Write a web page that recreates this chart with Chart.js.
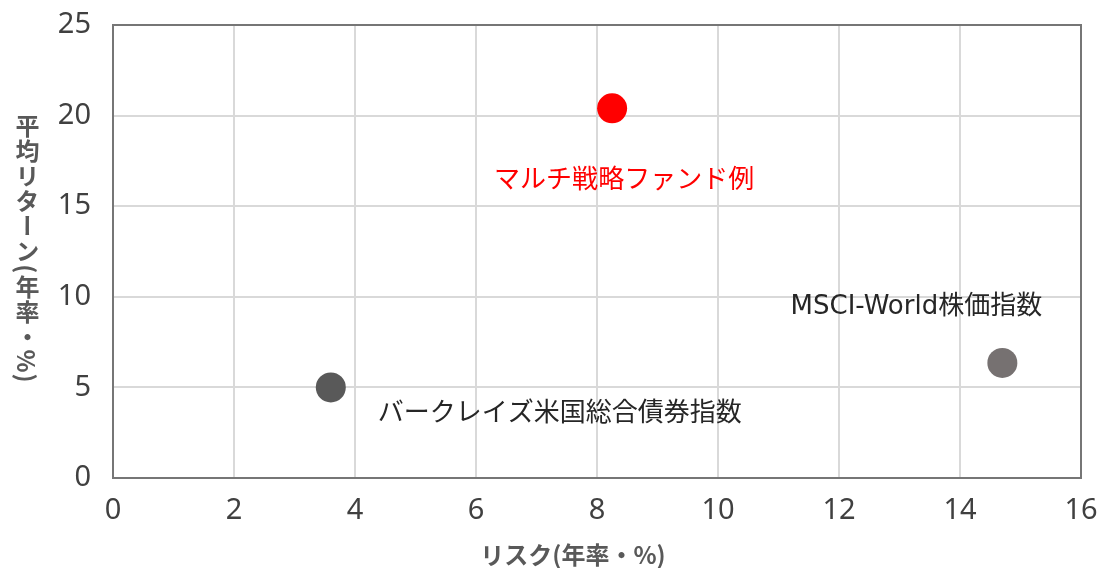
<!DOCTYPE html>
<html>
<head>
<meta charset="utf-8">
<script src="https://cdn.jsdelivr.net/npm/chart.js@4"></script>
<style>
  html, body { margin: 0; padding: 0; background: #fff; }
  #wrap { position: relative; width: 1109px; height: 568px; }
  .atitle {
    position: absolute; font-family: "Noto Sans CJK JP", sans-serif;
    font-weight: bold; font-size: 24px; color: #595959; white-space: nowrap;
  }
  #ytitle { left: 10px; top: 249px; transform: translateY(-50%); writing-mode: vertical-rl; letter-spacing: 1px; }
  #xtitle { left: 573px; top: 553px; transform: translate(-50%, -50%); }
</style>
</head>
<body>
<div id="wrap">
  <canvas id="c" width="1109" height="568"></canvas>
  <div id="ytitle" class="atitle">平均リターン(年率・%)</div>
  <div id="xtitle" class="atitle">リスク(年率・%)</div>
</div>
<script>
// data
const seriesNames = ['マルチ戦略ファンド例', 'バークレイズ米国総合債券指数', 'MSCI-World株価指数'];
const riskValues = [8.25, 3.6, 14.7];
const returnValues = [20.4, 5.0, 6.35];
const pointColors = ['#FF0000', '#595959', '#767171'];
const dotColors = ['#4472C4', '#A5A5A5', '#ED7D31'];
const labelColors = ['#FF0000', '#262626', '#262626'];
// label offset from point (px)
const labelOffsets = [[12, 73], [229, 27], [-86, -56]];

const TICK_FONT = '"Noto Sans", sans-serif';
const LABEL_FONT = '26px "DejaVu Sans", "Noto Sans CJK JP", sans-serif';

const labelPlugin = {
  id: 'pointLabels',
  afterDatasetsDraw(chart) {
    const ctx = chart.ctx;
    const xs = chart.scales.x, ys = chart.scales.y;
    ctx.save();
    ctx.font = LABEL_FONT;
    ctx.textAlign = 'center';
    ctx.textBaseline = 'middle';
    seriesNames.forEach((n, i) => {
      const px = xs.getPixelForValue(riskValues[i]);
      const py = ys.getPixelForValue(returnValues[i]);
      ctx.fillStyle = labelColors[i];
      ctx.fillText(n, px + labelOffsets[i][0], py + labelOffsets[i][1]);
    });
    ctx.restore();
  }
};

const borderPlugin = {
  id: 'plotBorder',
  afterDatasetsDraw(chart) {
    const a = chart.chartArea, ctx = chart.ctx;
    ctx.save();
    ctx.strokeStyle = '#767676';
    ctx.lineWidth = 2;
    ctx.strokeRect(a.left, a.top, a.right - a.left, a.bottom - a.top);
    ctx.restore();
  }
};

const pts = riskValues.map((x, i) => ({ x: x, y: returnValues[i] }));

new Chart(document.getElementById('c'), {
  type: 'scatter',
  data: {
    datasets: [
      {
        data: pts,
        pointRadius: 15,
        pointHoverRadius: 15,
        pointBackgroundColor: pointColors,
        pointBorderWidth: 0
      },
      {
        data: pts,
        pointRadius: 1.5,
        pointBackgroundColor: dotColors,
        pointBorderWidth: 0
      }
    ]
  },
  options: {
    responsive: false,
    animation: false,
    layout: { padding: { left: 0, top: 25, right: 28, bottom: 0 } },
    plugins: { legend: { display: false }, tooltip: { enabled: false } },
    scales: {
      x: {
        min: 0, max: 16,
        ticks: { stepSize: 2, color: '#404040', font: { family: TICK_FONT, size: 29, lineHeight: 2 }, padding: 4 },
        grid: { color: '#D9D9D9', lineWidth: 2, drawTicks: false },
        border: { display: false },
        afterFit(s) { s.height = 90; }
      },
      y: {
        min: 0, max: 25,
        ticks: { stepSize: 5, color: '#404040', font: { family: TICK_FONT, size: 29, lineHeight: 0.2 }, padding: 22 },
        grid: { color: '#D9D9D9', lineWidth: 2, drawTicks: false },
        border: { display: false },
        afterFit(s) { s.width = 113; }
      }
    }
  },
  plugins: [labelPlugin, borderPlugin]
});
</script>
</body>
</html>
